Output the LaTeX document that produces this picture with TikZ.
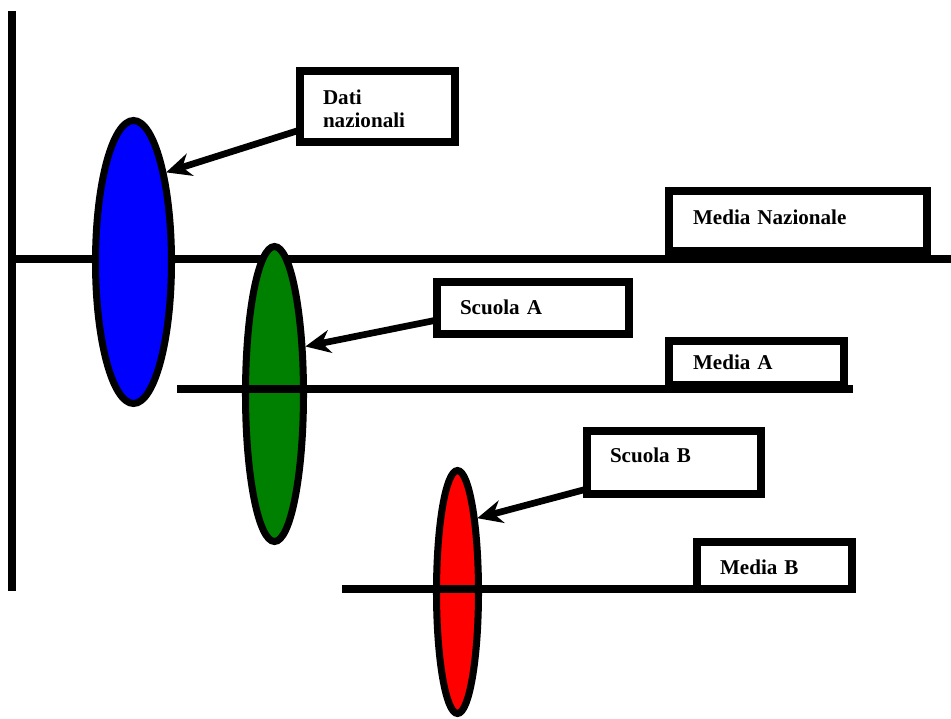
\documentclass[tikz,border=0pt]{standalone}
\usepackage{fontspec}
\setmainfont{Liberation Serif}
\usetikzlibrary{shapes.geometric,arrows.meta,calc}
\tikzset{
  axisline/.style={line width=4.5pt},
  blob/.style={ellipse, draw, line width=4pt, inner sep=0pt},
  labelbox/.style={draw, fill=white, line width=4.5pt, inner xsep=0.46cm, inner ysep=0pt,
    align=left, font=\bfseries\fontsize{12pt}{13pt}\selectfont, outer sep=0pt},
  pointer/.style={line width=3.8pt, -{Stealth[length=0.5cm, width=0.46cm, inset=0.16cm]}}
}
\begin{document}
\begin{tikzpicture}[x=0.02cm, y=-0.02cm]
\useasboundingbox (0,0) rectangle (951,719);
% main axes
\draw[axisline] (12,259) -- (951,259);
\draw[axisline] (12,11) -- (12,591);
% ellipses
\node[blob, fill={rgb,255:red,0;green,0;blue,255}, minimum width=1.52cm, minimum height=5.66cm] (blue) at (133.5,262) {};
\node[blob, fill={rgb,255:red,0;green,128;blue,0}, minimum width=1.16cm, minimum height=5.9cm] (green) at (274.5,394) {};
% boxes
\node[labelbox, minimum width=5.16cm, minimum height=1.2cm, text width=4.2cm, text height=0.28cm, text depth=0.12cm] (medianaz) at (798,221) {Media Nazionale};
\node[labelbox, minimum width=3.5cm, minimum height=0.88cm, text width=2.54cm, text height=0.28cm, text depth=0cm] (mediaA) at (756.5,363) {Media A};
\draw[axisline] (177,389) -- (853,389);
\node[blob, fill={rgb,255:red,255;green,0;blue,0}, minimum width=0.84cm, minimum height=4.86cm] (red) at (457.5,592) {};
\node[labelbox, minimum width=3.1cm, minimum height=0.94cm, text width=2.18cm, text height=0.38cm, text depth=0cm] (mediaB) at (774.5,565.5) {Media B};
\draw[axisline] (342,589) -- (805,589);
\node[labelbox, minimum width=3.1cm, minimum height=1.42cm, text width=2.18cm, text height=0.28cm, text depth=0.34cm] (dati) at (377.5,106.5) {Dati\\nazionali};
\node[labelbox, minimum width=3.84cm, minimum height=1.04cm, text width=2.92cm, text height=0.28cm, text depth=0cm] (scuolaA) at (533,308) {Scuola A};
\node[labelbox, minimum width=3.48cm, minimum height=1.26cm, text width=2.56cm, text height=0.28cm, text depth=0.26cm] (scuolaB) at (674,462.5) {Scuola B};
% pointers
\draw[pointer] ($(dati.south west)+(0,-12)$) -- (blue.70);
\draw[pointer] ($(scuolaA.south west)+(0,-14)$) -- (green.57);
\draw[pointer] ($(scuolaB.south west)+(0,-5)$) -- (red.75);
\end{tikzpicture}
\end{document}
